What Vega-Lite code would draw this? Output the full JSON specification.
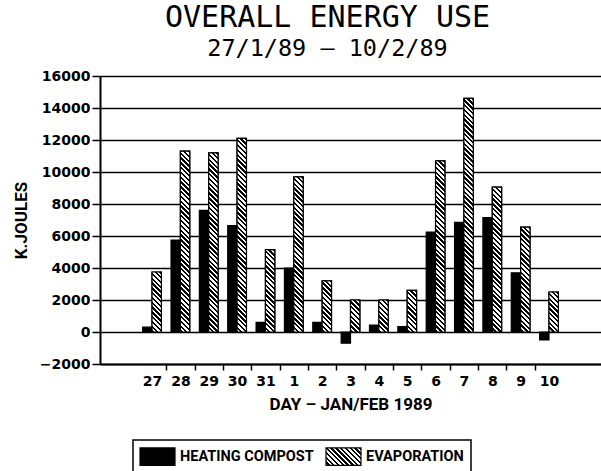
{
  "$schema": "https://vega.github.io/schema/vega-lite/v6.json",
  "width": 501,
  "height": 288,
  "autosize": {"type": "none"},
  "padding": {"left": 100, "top": 76, "right": 0, "bottom": 107},
  "background": "white",
  "title": {
    "text": "OVERALL ENERGY USE",
    "subtitle": "27/1/89 – 10/2/89",
    "font": "DejaVu Sans Mono",
    "fontSize": 30,
    "fontWeight": "normal",
    "color": "black",
    "subtitleFont": "DejaVu Sans Mono",
    "subtitleFontSize": 23.5,
    "subtitleColor": "black",
    "subtitlePadding": 4,
    "anchor": "middle",
    "dx": -23,
    "offset": 9
  },
  "params": [
    {
      "name": "hatch",
      "value": [
        {"offset": 0, "color": "#000"},
        {"offset": 0.0096, "color": "#000"}, {"offset": 0.0096, "color": "#fff"},
        {"offset": 0.0192, "color": "#fff"}, {"offset": 0.0192, "color": "#000"},
        {"offset": 0.0288, "color": "#000"}, {"offset": 0.0288, "color": "#fff"},
        {"offset": 0.0385, "color": "#fff"}, {"offset": 0.0385, "color": "#000"},
        {"offset": 0.0481, "color": "#000"}, {"offset": 0.0481, "color": "#fff"},
        {"offset": 0.0577, "color": "#fff"}, {"offset": 0.0577, "color": "#000"},
        {"offset": 0.0673, "color": "#000"}, {"offset": 0.0673, "color": "#fff"},
        {"offset": 0.0769, "color": "#fff"}, {"offset": 0.0769, "color": "#000"},
        {"offset": 0.0865, "color": "#000"}, {"offset": 0.0865, "color": "#fff"},
        {"offset": 0.0962, "color": "#fff"}, {"offset": 0.0962, "color": "#000"},
        {"offset": 0.1058, "color": "#000"}, {"offset": 0.1058, "color": "#fff"},
        {"offset": 0.1154, "color": "#fff"}, {"offset": 0.1154, "color": "#000"},
        {"offset": 0.125, "color": "#000"}, {"offset": 0.125, "color": "#fff"},
        {"offset": 0.1346, "color": "#fff"}, {"offset": 0.1346, "color": "#000"},
        {"offset": 0.1442, "color": "#000"}, {"offset": 0.1442, "color": "#fff"},
        {"offset": 0.1538, "color": "#fff"}, {"offset": 0.1538, "color": "#000"},
        {"offset": 0.1635, "color": "#000"}, {"offset": 0.1635, "color": "#fff"},
        {"offset": 0.1731, "color": "#fff"}, {"offset": 0.1731, "color": "#000"},
        {"offset": 0.1827, "color": "#000"}, {"offset": 0.1827, "color": "#fff"},
        {"offset": 0.1923, "color": "#fff"}, {"offset": 0.1923, "color": "#000"},
        {"offset": 0.2019, "color": "#000"}, {"offset": 0.2019, "color": "#fff"},
        {"offset": 0.2115, "color": "#fff"}, {"offset": 0.2115, "color": "#000"},
        {"offset": 0.2212, "color": "#000"}, {"offset": 0.2212, "color": "#fff"},
        {"offset": 0.2308, "color": "#fff"}, {"offset": 0.2308, "color": "#000"},
        {"offset": 0.2404, "color": "#000"}, {"offset": 0.2404, "color": "#fff"},
        {"offset": 0.25, "color": "#fff"}, {"offset": 0.25, "color": "#000"},
        {"offset": 0.2596, "color": "#000"}, {"offset": 0.2596, "color": "#fff"},
        {"offset": 0.2692, "color": "#fff"}, {"offset": 0.2692, "color": "#000"},
        {"offset": 0.2788, "color": "#000"}, {"offset": 0.2788, "color": "#fff"},
        {"offset": 0.2885, "color": "#fff"}, {"offset": 0.2885, "color": "#000"},
        {"offset": 0.2981, "color": "#000"}, {"offset": 0.2981, "color": "#fff"},
        {"offset": 0.3077, "color": "#fff"}, {"offset": 0.3077, "color": "#000"},
        {"offset": 0.3173, "color": "#000"}, {"offset": 0.3173, "color": "#fff"},
        {"offset": 0.3269, "color": "#fff"}, {"offset": 0.3269, "color": "#000"},
        {"offset": 0.3365, "color": "#000"}, {"offset": 0.3365, "color": "#fff"},
        {"offset": 0.3462, "color": "#fff"}, {"offset": 0.3462, "color": "#000"},
        {"offset": 0.3558, "color": "#000"}, {"offset": 0.3558, "color": "#fff"},
        {"offset": 0.3654, "color": "#fff"}, {"offset": 0.3654, "color": "#000"},
        {"offset": 0.375, "color": "#000"}, {"offset": 0.375, "color": "#fff"},
        {"offset": 0.3846, "color": "#fff"}, {"offset": 0.3846, "color": "#000"},
        {"offset": 0.3942, "color": "#000"}, {"offset": 0.3942, "color": "#fff"},
        {"offset": 0.4038, "color": "#fff"}, {"offset": 0.4038, "color": "#000"},
        {"offset": 0.4135, "color": "#000"}, {"offset": 0.4135, "color": "#fff"},
        {"offset": 0.4231, "color": "#fff"}, {"offset": 0.4231, "color": "#000"},
        {"offset": 0.4327, "color": "#000"}, {"offset": 0.4327, "color": "#fff"},
        {"offset": 0.4423, "color": "#fff"}, {"offset": 0.4423, "color": "#000"},
        {"offset": 0.4519, "color": "#000"}, {"offset": 0.4519, "color": "#fff"},
        {"offset": 0.4615, "color": "#fff"}, {"offset": 0.4615, "color": "#000"},
        {"offset": 0.4712, "color": "#000"}, {"offset": 0.4712, "color": "#fff"},
        {"offset": 0.4808, "color": "#fff"}, {"offset": 0.4808, "color": "#000"},
        {"offset": 0.4904, "color": "#000"}, {"offset": 0.4904, "color": "#fff"},
        {"offset": 0.5, "color": "#fff"}, {"offset": 0.5, "color": "#000"},
        {"offset": 0.5096, "color": "#000"}, {"offset": 0.5096, "color": "#fff"},
        {"offset": 0.5192, "color": "#fff"}, {"offset": 0.5192, "color": "#000"},
        {"offset": 0.5288, "color": "#000"}, {"offset": 0.5288, "color": "#fff"},
        {"offset": 0.5385, "color": "#fff"}, {"offset": 0.5385, "color": "#000"},
        {"offset": 0.5481, "color": "#000"}, {"offset": 0.5481, "color": "#fff"},
        {"offset": 0.5577, "color": "#fff"}, {"offset": 0.5577, "color": "#000"},
        {"offset": 0.5673, "color": "#000"}, {"offset": 0.5673, "color": "#fff"},
        {"offset": 0.5769, "color": "#fff"}, {"offset": 0.5769, "color": "#000"},
        {"offset": 0.5865, "color": "#000"}, {"offset": 0.5865, "color": "#fff"},
        {"offset": 0.5962, "color": "#fff"}, {"offset": 0.5962, "color": "#000"},
        {"offset": 0.6058, "color": "#000"}, {"offset": 0.6058, "color": "#fff"},
        {"offset": 0.6154, "color": "#fff"}, {"offset": 0.6154, "color": "#000"},
        {"offset": 0.625, "color": "#000"}, {"offset": 0.625, "color": "#fff"},
        {"offset": 0.6346, "color": "#fff"}, {"offset": 0.6346, "color": "#000"},
        {"offset": 0.6442, "color": "#000"}, {"offset": 0.6442, "color": "#fff"},
        {"offset": 0.6538, "color": "#fff"}, {"offset": 0.6538, "color": "#000"},
        {"offset": 0.6635, "color": "#000"}, {"offset": 0.6635, "color": "#fff"},
        {"offset": 0.6731, "color": "#fff"}, {"offset": 0.6731, "color": "#000"},
        {"offset": 0.6827, "color": "#000"}, {"offset": 0.6827, "color": "#fff"},
        {"offset": 0.6923, "color": "#fff"}, {"offset": 0.6923, "color": "#000"},
        {"offset": 0.7019, "color": "#000"}, {"offset": 0.7019, "color": "#fff"},
        {"offset": 0.7115, "color": "#fff"}, {"offset": 0.7115, "color": "#000"},
        {"offset": 0.7212, "color": "#000"}, {"offset": 0.7212, "color": "#fff"},
        {"offset": 0.7308, "color": "#fff"}, {"offset": 0.7308, "color": "#000"},
        {"offset": 0.7404, "color": "#000"}, {"offset": 0.7404, "color": "#fff"},
        {"offset": 0.75, "color": "#fff"}, {"offset": 0.75, "color": "#000"},
        {"offset": 0.7596, "color": "#000"}, {"offset": 0.7596, "color": "#fff"},
        {"offset": 0.7692, "color": "#fff"}, {"offset": 0.7692, "color": "#000"},
        {"offset": 0.7788, "color": "#000"}, {"offset": 0.7788, "color": "#fff"},
        {"offset": 0.7885, "color": "#fff"}, {"offset": 0.7885, "color": "#000"},
        {"offset": 0.7981, "color": "#000"}, {"offset": 0.7981, "color": "#fff"},
        {"offset": 0.8077, "color": "#fff"}, {"offset": 0.8077, "color": "#000"},
        {"offset": 0.8173, "color": "#000"}, {"offset": 0.8173, "color": "#fff"},
        {"offset": 0.8269, "color": "#fff"}, {"offset": 0.8269, "color": "#000"},
        {"offset": 0.8365, "color": "#000"}, {"offset": 0.8365, "color": "#fff"},
        {"offset": 0.8462, "color": "#fff"}, {"offset": 0.8462, "color": "#000"},
        {"offset": 0.8558, "color": "#000"}, {"offset": 0.8558, "color": "#fff"},
        {"offset": 0.8654, "color": "#fff"}, {"offset": 0.8654, "color": "#000"},
        {"offset": 0.875, "color": "#000"}, {"offset": 0.875, "color": "#fff"},
        {"offset": 0.8846, "color": "#fff"}, {"offset": 0.8846, "color": "#000"},
        {"offset": 0.8942, "color": "#000"}, {"offset": 0.8942, "color": "#fff"},
        {"offset": 0.9038, "color": "#fff"}, {"offset": 0.9038, "color": "#000"},
        {"offset": 0.9135, "color": "#000"}, {"offset": 0.9135, "color": "#fff"},
        {"offset": 0.9231, "color": "#fff"}, {"offset": 0.9231, "color": "#000"},
        {"offset": 0.9327, "color": "#000"}, {"offset": 0.9327, "color": "#fff"},
        {"offset": 0.9423, "color": "#fff"}, {"offset": 0.9423, "color": "#000"},
        {"offset": 0.9519, "color": "#000"}, {"offset": 0.9519, "color": "#fff"},
        {"offset": 0.9615, "color": "#fff"}, {"offset": 0.9615, "color": "#000"},
        {"offset": 0.9712, "color": "#000"}, {"offset": 0.9712, "color": "#fff"},
        {"offset": 0.9808, "color": "#fff"}, {"offset": 0.9808, "color": "#000"},
        {"offset": 0.9904, "color": "#000"}, {"offset": 0.9904, "color": "#fff"},
        {"offset": 1, "color": "#fff"}
      ]
    }
  ],
  "data": {
    "values": [
      {"day": "27", "series": "HEATING COMPOST", "value": 300},
      {"day": "27", "series": "EVAPORATION", "value": 3750},
      {"day": "28", "series": "HEATING COMPOST", "value": 5750},
      {"day": "28", "series": "EVAPORATION", "value": 11300},
      {"day": "29", "series": "HEATING COMPOST", "value": 7600},
      {"day": "29", "series": "EVAPORATION", "value": 11200},
      {"day": "30", "series": "HEATING COMPOST", "value": 6650},
      {"day": "30", "series": "EVAPORATION", "value": 12100},
      {"day": "31", "series": "HEATING COMPOST", "value": 600},
      {"day": "31", "series": "EVAPORATION", "value": 5150},
      {"day": "1", "series": "HEATING COMPOST", "value": 4000},
      {"day": "1", "series": "EVAPORATION", "value": 9700},
      {"day": "2", "series": "HEATING COMPOST", "value": 600},
      {"day": "2", "series": "EVAPORATION", "value": 3200},
      {"day": "3", "series": "HEATING COMPOST", "value": -700},
      {"day": "3", "series": "EVAPORATION", "value": 2000},
      {"day": "4", "series": "HEATING COMPOST", "value": 430},
      {"day": "4", "series": "EVAPORATION", "value": 2000},
      {"day": "5", "series": "HEATING COMPOST", "value": 330},
      {"day": "5", "series": "EVAPORATION", "value": 2600},
      {"day": "6", "series": "HEATING COMPOST", "value": 6250},
      {"day": "6", "series": "EVAPORATION", "value": 10700},
      {"day": "7", "series": "HEATING COMPOST", "value": 6850},
      {"day": "7", "series": "EVAPORATION", "value": 14600},
      {"day": "8", "series": "HEATING COMPOST", "value": 7150},
      {"day": "8", "series": "EVAPORATION", "value": 9050},
      {"day": "9", "series": "HEATING COMPOST", "value": 3700},
      {"day": "9", "series": "EVAPORATION", "value": 6550},
      {"day": "10", "series": "HEATING COMPOST", "value": -500},
      {"day": "10", "series": "EVAPORATION", "value": 2500}
    ]
  },
  "encoding": {
    "x": {
      "field": "day",
      "type": "nominal",
      "scale": {
        "domain": ["pad0", "27", "28", "29", "30", "31", "1", "2", "3", "4", "5", "6", "7", "8", "9", "10", "pad1"],
        "paddingInner": 0.34,
        "paddingOuter": 0.505
      },
      "axis": {
        "values": ["27", "28", "29", "30", "31", "1", "2", "3", "4", "5", "6", "7", "8", "9", "10"],
        "title": "DAY – JAN/FEB 1989",
        "titleFont": "Roboto",
        "titleFontWeight": "bold",
        "titleFontSize": 17,
        "titleColor": "black",
        "titlePadding": 8,
        "labelAngle": 0,
        "labelFont": "DejaVu Sans",
        "labelFontWeight": "bold",
        "labelFontSize": 14,
        "labelColor": "black",
        "labelPadding": 4,
        "tickOffset": -14.18,
        "labelOffset": 14.18,
        "tickOpacity": {"condition": {"test": "datum.value === '27'", "value": 0}, "value": 1},
        "tickSize": 6,
        "tickColor": "black",
        "tickWidth": 1.5,
        "domain": true,
        "domainColor": "black",
        "domainWidth": 2,
        "grid": false
      }
    },
    "xOffset": {"field": "series", "type": "nominal", "sort": ["HEATING COMPOST", "EVAPORATION"]},
    "y": {
      "field": "value",
      "type": "quantitative",
      "scale": {"domain": [-2000, 16000], "nice": false},
      "axis": {
        "values": [-2000, 0, 2000, 4000, 6000, 8000, 10000, 12000, 14000, 16000],
        "format": "d",
        "title": "K.JOULES",
        "titleFont": "Roboto",
        "titleFontWeight": "bold",
        "titleFontSize": 17,
        "titleColor": "black",
        "titleX": -70,
        "grid": true,
        "gridColor": "black",
        "gridWidth": 1.6,
        "gridOpacity": 1,
        "domainColor": "black",
        "domainWidth": 2,
        "tickColor": "black",
        "tickSize": 8,
        "tickWidth": 1.5,
        "labelFont": "DejaVu Sans",
        "labelFontWeight": "bold",
        "labelFontSize": 14,
        "labelColor": "black",
        "labelPadding": 2
      }
    }
  },
  "layer": [
    {
      "mark": {"type": "bar", "stroke": "black", "strokeWidth": 1.2},
      "encoding": {
        "fill": {
          "field": "series",
          "type": "nominal",
          "scale": {
            "domain": ["HEATING COMPOST", "EVAPORATION"],
            "range": ["black", {"expr": "{gradient: 'linear', x1: 1, y1: 0, x2: -4.714, y2: 2.857, stops: hatch}"}]
          },
          "legend": {
            "title": null,
            "orient": "none",
            "legendX": 33,
            "legendY": 364,
            "direction": "horizontal",
            "gridAlign": "all",
            "symbolType": "M-2,-1H2V1H-2Z",
            "symbolSize": 306,
            "symbolStrokeColor": "black",
            "symbolStrokeWidth": 1.2,
            "symbolOffset": 8,
            "labelOffset": 13,
            "labelFont": "Roboto",
            "labelFontWeight": "bold",
            "labelFontSize": 14.5,
            "labelColor": "black",
            "columnPadding": 9,
            "padding": 7,
            "strokeColor": "black"
          }
        }
      }
    },
    {
      "transform": [{"filter": "datum.series === 'EVAPORATION'"}],
      "mark": {
        "type": "bar",
        "stroke": "black",
        "strokeWidth": 1.2,
        "fill": {"expr": "{gradient: 'linear', x1: 1, y1: 0, x2: 1 - 250 * bandwidth('xOffset') / (pow(bandwidth('xOffset'), 2) + pow(scale('y', 0) - scale('y', datum.value), 2)), y2: 250 * abs(scale('y', 0) - scale('y', datum.value)) / (pow(bandwidth('xOffset'), 2) + pow(scale('y', 0) - scale('y', datum.value), 2)), stops: hatch}"}
      }
    }
  ],
  "config": {
    "view": {"stroke": null},
    "legend": {"strokeWidth": 1.5}
  }
}
